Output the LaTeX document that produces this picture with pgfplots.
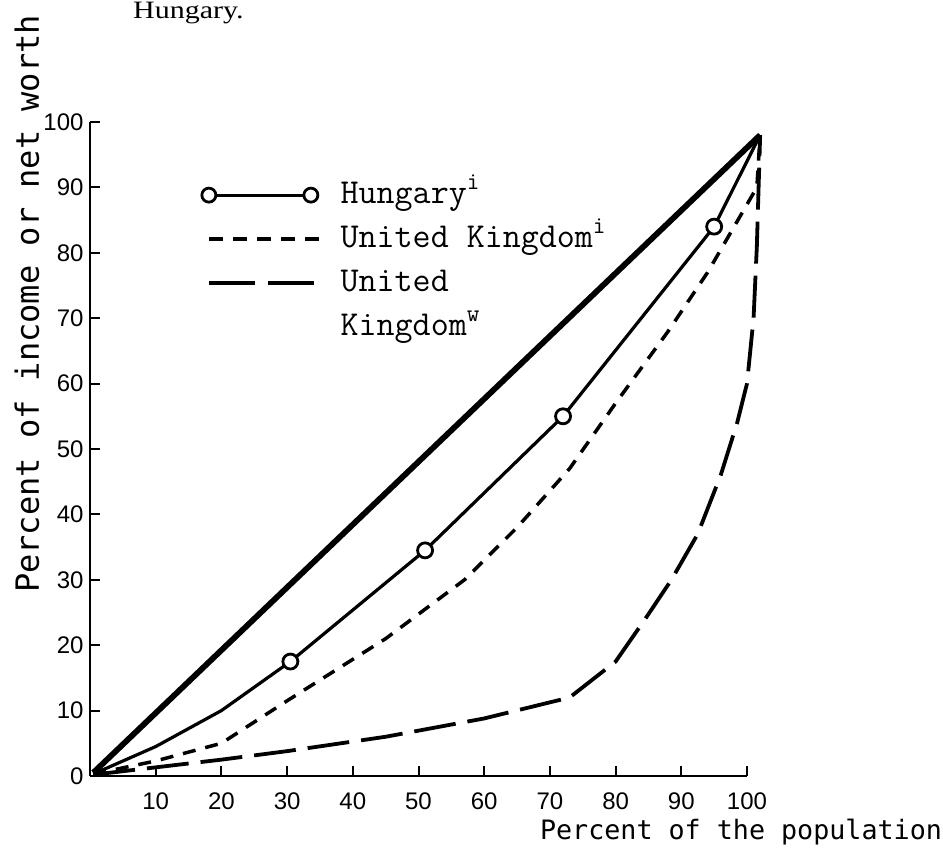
\documentclass[border=0pt]{standalone}
\usepackage{fontspec}
\usepackage{graphicx}
\usepackage{pgfplots}
\pgfplotsset{compat=1.18}
\setmainfont{Liberation Serif}
\newfontfamily\ticksf{Liberation Sans}
\newfontfamily\labmono{DejaVu Sans Mono}

\pgfplotsset{
  hunglegend/.style={legend image code/.code={\draw[##1] plot coordinates {(0pt,0pt) (102pt,0pt)};}},
  linelegend/.style={legend image code/.code={\draw[##1] (0pt,0pt) -- (113pt,0pt);}},
}

\pgfplotstableread{
x y
0.5 0.3
10 4.5
20 10
30.5 17.5
51 34.5
72 55
95 84
102 98
}\hungary

\pgfplotstableread{
x y
30.5 17.5
51 34.5
72 55
95 84
}\hungarymarks

\pgfplotstableread{
x y
0.5 0.3
10 2.3
20 5
30 11.5
45 21
57 30
65 38
73 47
80 57
88 68
94 77
101.5 90
102 98
}\ukincome

\pgfplotstableread{
x y
0.5 0.2
20 2.5
30 3.8
45 6
60 8.8
73 12
80 17.5
84.5 24
88.5 30
92.5 37
96 46
98.5 54
100 60
101 70
101.5 81
102 98
}\ukwealth

\begin{document}
\begin{tikzpicture}
\useasboundingbox (-90pt,-83pt) rectangle (853pt,776pt);
\begin{axis}[
  at={(0pt,0pt)}, anchor=south west,
  scale only axis, width=657pt, height=654pt,
  xmin=0, xmax=100, ymin=0, ymax=100,
  axis x line=bottom, axis y line=left,
  x axis line style={-, line width=2pt},
  y axis line style={-, line width=2.6pt},
  xtick={10,20,...,100}, ytick={0,10,...,100},
  tick align=inside,
  major tick length=10pt,
  tick style={line width=2pt, black},
  tick label style={font=\fontsize{24}{24}\selectfont\ticksf},
  /pgf/number format/assume math mode=true,
  xticklabel style={yshift=-13pt},
  yticklabel style={xshift=-3pt},
  clip=false,
  legend style={draw=none, fill=none, inner sep=0pt,
    at={(axis cs:17,91.6)}, anchor=north west,
    font=\fontsize{35}{40}\selectfont\ttfamily,
    nodes={text height=24pt, text depth=8pt, inner sep=2pt},
    row sep=8pt,
    /tikz/every odd column/.append style={column sep=15pt}},
  legend cell align=left,
]
\addplot[line width=5.8pt, forget plot] coordinates {(0.5,0.5) (102,98)};
\addplot[line width=3.2pt, forget plot] table {\hungary};
\addplot[line width=3.5pt, dash pattern=on 13pt off 10pt, forget plot] table {\ukincome};
\addplot[line width=3.8pt, dash pattern=on 42pt off 12pt, forget plot] table {\ukwealth};
\addplot[only marks, mark=*, mark size=7.5pt, mark options={fill=white, draw=black, line width=2.8pt}, forget plot] table {\hungarymarks};

\addlegendimage{hunglegend, line width=3pt, mark=*, mark size=7pt, mark options={fill=white, draw=black, line width=2.8pt}}
\addlegendentry{Hungary\raisebox{5pt}{\textsuperscript{i}}}
\addlegendimage{linelegend, line width=3.5pt, dash pattern=on 14pt off 10pt}
\addlegendentry{United Kingdom\raisebox{5pt}{\textsuperscript{i}}}
\addlegendimage{linelegend, line width=3.5pt, dash pattern=on 46pt off 13pt}
\addlegendentry{United}
\addlegendimage{empty legend}
\addlegendentry{Kingdom\raisebox{5pt}{\textsuperscript{w}}}
\end{axis}
\node[anchor=base west, inner sep=0pt, font=\fontsize{25}{25}\selectfont] at (43pt,757pt) {\scalebox{1.2}[1]{Hungary.}};
\node[anchor=base, inner sep=0pt, font=\fontsize{26.7}{26.7}\selectfont\labmono] at (651pt,-64pt) {Percent of the population};
\node[anchor=base, rotate=90, inner sep=0pt, font=\fontsize{32}{32}\selectfont\labmono] at (-51pt,472pt) {Percent of income or net worth};
\end{tikzpicture}
\end{document}
